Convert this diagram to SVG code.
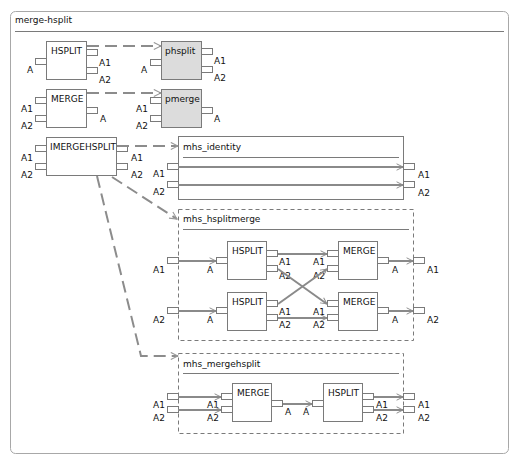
<svg xmlns="http://www.w3.org/2000/svg" width="519" height="465" viewBox="0 0 519 465">
<defs>
<marker id="arr" viewBox="0 0 10 10" refX="9" refY="5" markerWidth="9" markerHeight="8" markerUnits="userSpaceOnUse" orient="auto">
<path d="M1,1 L9,5 L1,9" fill="none" stroke="#8a8a8a" stroke-width="1.2"/>
</marker>
<marker id="darr" viewBox="0 0 10 10" refX="9" refY="5" markerWidth="10" markerHeight="9" markerUnits="userSpaceOnUse" orient="auto">
<path d="M1,1 L9,5 L1,9" fill="none" stroke="#999" stroke-width="1.2"/>
</marker>
</defs>
<style>
text{font-family:"DejaVu Sans",Verdana,sans-serif;font-size:9px;fill:#111}
.box{fill:#fff;stroke:#7a7a7a;stroke-width:1}
.pbox{fill:#dcdcdc;stroke:#7a7a7a;stroke-width:1}
.port{fill:#fff;stroke:#7a7a7a;stroke-width:1}
.grp{fill:#fff;stroke:#7a7a7a;stroke-width:1}
.dgrp{fill:#fff;stroke:#7a7a7a;stroke-width:1;stroke-dasharray:4,3}
.sep{stroke:#7a7a7a;stroke-width:1}
.wire{fill:none;stroke:#8a8a8a;stroke-width:2;marker-end:url(#arr)}
.dep{fill:none;stroke:#8c8c8c;stroke-width:2;stroke-dasharray:12,6;marker-end:url(#darr)}
</style>
<rect x="0" y="0" width="519" height="465" fill="#fff"/>
<g id="frame">
<rect x="10.5" y="11.5" width="498" height="442" rx="5" fill="#fff" stroke="#a8a8a8"/>
<text x="15" y="23">merge-hsplit</text>
<line class="sep" x1="15" y1="31.5" x2="504" y2="31.5" stroke="#a8a8a8"/>
</g>

<g id="HSPLIT">
<rect class="box" x="46.5" y="41.5" width="40" height="38"/>
<text x="51" y="54">HSPLIT</text>
<rect class="port" x="35.5" y="58.5" width="11" height="6"/>
<rect class="port" x="86.5" y="49.5" width="11" height="6"/>
<rect class="port" x="86.5" y="67.5" width="11" height="6"/>
<text x="27" y="73">A</text>
<text x="99" y="66">A1</text>
<text x="99" y="83">A2</text>
</g>

<g id="MERGE">
<rect class="box" x="46.5" y="89.5" width="40" height="38"/>
<text x="51" y="102">MERGE</text>
<rect class="port" x="35.5" y="97.5" width="11" height="6"/>
<rect class="port" x="35.5" y="115.5" width="11" height="6"/>
<rect class="port" x="86.5" y="107.5" width="11" height="6"/>
<text x="21" y="112">A1</text>
<text x="21" y="129">A2</text>
<text x="100" y="122">A</text>
</g>

<g id="phsplit">
<rect class="pbox" x="161.5" y="41.5" width="40" height="38"/>
<text x="165" y="54">phsplit</text>
<rect class="port" x="150.5" y="59.5" width="11" height="6"/>
<rect class="port" x="201.5" y="48.5" width="11" height="6"/>
<rect class="port" x="201.5" y="66.5" width="11" height="6"/>
<text x="141" y="73">A</text>
<text x="214" y="64">A1</text>
<text x="214" y="81">A2</text>
</g>

<g id="pmerge">
<rect class="pbox" x="161.5" y="89.5" width="40" height="38"/>
<text x="165" y="102">pmerge</text>
<rect class="port" x="150.5" y="97.5" width="11" height="6"/>
<rect class="port" x="150.5" y="115.5" width="11" height="6"/>
<rect class="port" x="201.5" y="107.5" width="11" height="6"/>
<text x="136" y="112">A1</text>
<text x="136" y="129">A2</text>
<text x="214" y="122">A</text>
</g>

<g id="IMERGEHSPLIT">
<rect class="box" x="46.5" y="137.5" width="70" height="38"/>
<text x="50" y="150">IMERGEHSPLIT</text>
<rect class="port" x="35.5" y="145.5" width="11" height="6"/>
<rect class="port" x="35.5" y="163.5" width="11" height="6"/>
<rect class="port" x="116.5" y="145.5" width="11" height="6"/>
<rect class="port" x="116.5" y="163.5" width="11" height="6"/>
<text x="21" y="161">A1</text>
<text x="21" y="178">A2</text>
<text x="131" y="161">A1</text>
<text x="131" y="178">A2</text>
</g>

<g id="mhs_identity">
<rect class="grp" x="178.5" y="136.5" width="225" height="63"/>
<text x="183" y="150">mhs_identity</text>
<line class="sep" x1="183" y1="157.5" x2="399" y2="157.5"/>
<rect class="port" x="167.5" y="163.5" width="11" height="6"/>
<rect class="port" x="167.5" y="181.5" width="11" height="6"/>
<rect class="port" x="403.5" y="163.5" width="11" height="6"/>
<rect class="port" x="403.5" y="181.5" width="11" height="6"/>
<text x="153" y="177">A1</text>
<text x="153" y="195">A2</text>
<text x="418" y="178">A1</text>
<text x="418" y="196">A2</text>
</g>

<g id="mhs_hsplitmerge">
<rect class="dgrp" x="178.5" y="209.5" width="235" height="131"/>
<text x="183" y="222">mhs_hsplitmerge</text>
<line class="sep" x1="183" y1="229.5" x2="409" y2="229.5"/>
<rect class="port" x="167.5" y="257.5" width="11" height="6"/>
<rect class="port" x="167.5" y="307.5" width="11" height="6"/>
<rect class="port" x="413.5" y="257.5" width="11" height="6"/>
<rect class="port" x="413.5" y="307.5" width="11" height="6"/>
<text x="153" y="273">A1</text>
<text x="153" y="323">A2</text>
<text x="427" y="273">A1</text>
<text x="427" y="323">A2</text>
<g id="hm_HSPLIT1">
<rect class="box" x="227.5" y="241.5" width="39" height="38"/>
<text x="232" y="254">HSPLIT</text>
<rect class="port" x="216.5" y="257.5" width="11" height="6"/>
<rect class="port" x="266.5" y="250.5" width="11" height="6"/>
<rect class="port" x="266.5" y="265.5" width="11" height="6"/>
<text x="207" y="273">A</text>
<text x="279" y="265">A1</text>
<text x="279" y="279">A2</text>
</g>
<g id="hm_HSPLIT2">
<rect class="box" x="227.5" y="292.5" width="39" height="38"/>
<text x="232" y="305">HSPLIT</text>
<rect class="port" x="216.5" y="307.5" width="11" height="6"/>
<rect class="port" x="266.5" y="300.5" width="11" height="6"/>
<rect class="port" x="266.5" y="314.5" width="11" height="6"/>
<text x="207" y="323">A</text>
<text x="279" y="315">A1</text>
<text x="279" y="328">A2</text>
</g>
<g id="hm_MERGE1">
<rect class="box" x="338.5" y="241.5" width="39" height="38"/>
<text x="343" y="254">MERGE</text>
<rect class="port" x="327.5" y="250.5" width="11" height="6"/>
<rect class="port" x="327.5" y="265.5" width="11" height="6"/>
<rect class="port" x="377.5" y="257.5" width="11" height="6"/>
<text x="313" y="265">A1</text>
<text x="313" y="279">A2</text>
<text x="392" y="273">A</text>
</g>
<g id="hm_MERGE2">
<rect class="box" x="338.5" y="292.5" width="39" height="38"/>
<text x="343" y="305">MERGE</text>
<rect class="port" x="327.5" y="300.5" width="11" height="6"/>
<rect class="port" x="327.5" y="314.5" width="11" height="6"/>
<rect class="port" x="377.5" y="307.5" width="11" height="6"/>
<text x="313" y="315">A1</text>
<text x="313" y="328">A2</text>
<text x="392" y="323">A</text>
</g>
</g>

<g id="mhs_mergehsplit">
<rect class="dgrp" x="178.5" y="353.5" width="225" height="80"/>
<text x="183" y="367">mhs_mergehsplit</text>
<line class="sep" x1="183" y1="373.5" x2="399" y2="373.5"/>
<rect class="port" x="167.5" y="393.5" width="11" height="6"/>
<rect class="port" x="167.5" y="406.5" width="11" height="6"/>
<rect class="port" x="403.5" y="393.5" width="11" height="6"/>
<rect class="port" x="403.5" y="406.5" width="11" height="6"/>
<text x="153" y="408">A1</text>
<text x="153" y="421">A2</text>
<text x="418" y="408">A1</text>
<text x="418" y="421">A2</text>
<g id="mh_MERGE">
<rect class="box" x="232.5" y="383.5" width="39" height="38"/>
<text x="237" y="396">MERGE</text>
<rect class="port" x="221.5" y="393.5" width="11" height="6"/>
<rect class="port" x="221.5" y="406.5" width="11" height="6"/>
<rect class="port" x="271.5" y="400.5" width="11" height="6"/>
<text x="207" y="408">A1</text>
<text x="207" y="421">A2</text>
<text x="285" y="415">A</text>
</g>
<g id="mh_HSPLIT">
<rect class="box" x="323.5" y="383.5" width="39" height="38"/>
<text x="328" y="396">HSPLIT</text>
<rect class="port" x="312.5" y="400.5" width="11" height="6"/>
<rect class="port" x="362.5" y="393.5" width="11" height="6"/>
<rect class="port" x="362.5" y="406.5" width="11" height="6"/>
<text x="303" y="415">A</text>
<text x="376" y="408">A1</text>
<text x="376" y="421">A2</text>
</g>
</g>

<g id="connectors">
<line class="dep" x1="87" y1="46" x2="161" y2="46"/>
<line class="dep" x1="87" y1="93" x2="161" y2="93"/>
<line class="dep" x1="117" y1="146" x2="178" y2="146"/>
<line class="dep" x1="112" y1="177" x2="177" y2="219"/>
<polyline class="dep" points="97,176 141,356 178,356"/>

<line class="wire" x1="178" y1="167" x2="403" y2="167"/>
<line class="wire" x1="178" y1="185" x2="403" y2="185"/>

<line class="wire" x1="178" y1="261" x2="216" y2="261"/>
<line class="wire" x1="178" y1="311" x2="216" y2="311"/>
<line class="wire" x1="278" y1="254" x2="327" y2="254"/>
<line class="wire" x1="278" y1="269" x2="327" y2="304"/>
<line class="wire" x1="278" y1="304" x2="327" y2="269"/>
<line class="wire" x1="278" y1="318" x2="327" y2="318"/>
<line class="wire" x1="389" y1="261" x2="413" y2="261"/>
<line class="wire" x1="389" y1="311" x2="413" y2="311"/>

<line class="wire" x1="178" y1="397" x2="221" y2="397"/>
<line class="wire" x1="178" y1="410" x2="221" y2="410"/>
<line class="wire" x1="283" y1="404" x2="312" y2="404"/>
<line class="wire" x1="374" y1="397" x2="403" y2="397"/>
<line class="wire" x1="374" y1="410" x2="403" y2="410"/>
</g>
</svg>
